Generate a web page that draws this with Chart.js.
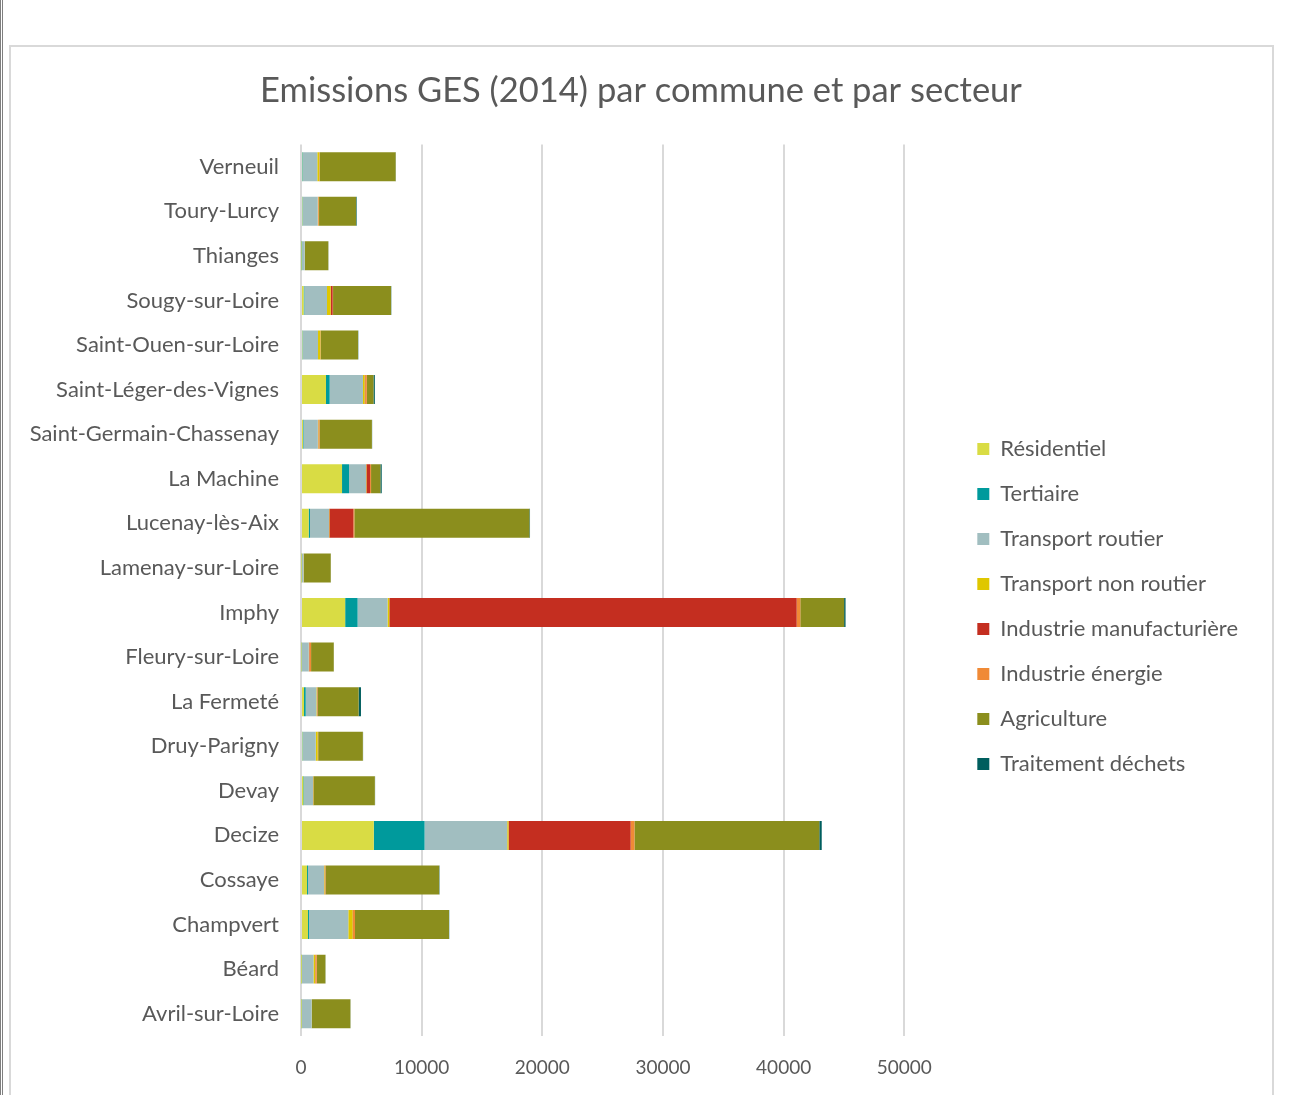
<!DOCTYPE html>
<html lang="fr">
<head>
<meta charset="utf-8">
<title>Emissions GES (2014)</title>
<script src="https://cdn.jsdelivr.net/npm/chart.js@4.4.1/dist/chart.umd.min.js"></script>
<style>
  html, body { margin: 0; padding: 0; background: #fff; }
  .page { position: relative; width: 1302px; height: 1095px; overflow: hidden; }
  .rule { position: absolute; top: 0; width: 1px; height: 1095px; background: #7f7f7f; }
  .frame { position: absolute; left: 9px; top: 45px; width: 1265px; height: 1100px;
           border: 2px solid #d9d9d9; box-sizing: border-box; }
  .box { position: absolute; left: 0; top: 0; width: 1302px; height: 1095px; }
</style>
</head>
<body>
<div class="page">
  <div class="rule" style="left:0"></div>
  <div class="rule" style="left:2px"></div>
  <div class="frame"></div>
  <div class="box"><canvas id="gesChart"></canvas></div>
</div>
<script>
// communes, from bottom of the chart to top
const communes = [
  "Avril-sur-Loire", "Béard", "Champvert", "Cossaye", "Decize", "Devay",
  "Druy-Parigny", "La Fermeté", "Fleury-sur-Loire", "Imphy", "Lamenay-sur-Loire",
  "Lucenay-lès-Aix", "La Machine", "Saint-Germain-Chassenay", "Saint-Léger-des-Vignes",
  "Saint-Ouen-sur-Loire", "Sougy-sur-Loire", "Thianges", "Toury-Lurcy", "Verneuil"
];

// émissions par secteur (teqCO2)
const residentiel   = [30, 20, 580, 500, 6030, 195, 110, 250, 40, 3660, 30, 635, 3400, 165, 2070, 110, 220, 40, 110, 100];
const tertiaire     = [20, 20, 80, 80, 4210, 55, 30, 140, 20, 1030, 10, 110, 580, 40, 305, 30, 55, 50, 30, 40];
const transportRout = [830, 995, 3260, 1330, 6850, 745, 1080, 885, 580, 2480, 165, 1575, 1410, 1190, 2760, 1270, 1880, 220, 1245, 1210];
const transportNon  = [10, 140, 360, 40, 110, 20, 165, 60, 30, 150, 10, 30, 30, 40, 140, 195, 305, 10, 40, 165];
const industrieManu = [0, 20, 30, 20, 10120, 10, 10, 20, 30, 33760, 0, 1990, 305, 20, 40, 10, 165, 0, 10, 10];
const industrieEner = [0, 110, 165, 55, 315, 10, 30, 20, 135, 300, 10, 80, 80, 80, 140, 20, 30, 10, 60, 20];
const agriculture   = [3205, 720, 7790, 9425, 15320, 5085, 3700, 3400, 1880, 3630, 2240, 14510, 775, 4340, 555, 3095, 4810, 1935, 3070, 6300];
const dechets       = [10, 10, 20, 30, 200, 20, 20, 195, 10, 120, 10, 50, 110, 20, 110, 20, 20, 10, 50, 20];

const xTicks = [0, 10000, 20000, 30000, 40000, 50000];

const FONT = "Lato, 'Open Sans', sans-serif";
const GREY = "#595959";

const series = [
  ["Résidentiel", residentiel, "#d9dc44"],
  ["Tertiaire", tertiaire, "#009a9c"],
  ["Transport routier", transportRout, "#a1bec0"],
  ["Transport non routier", transportNon, "#dfc700"],
  ["Industrie manufacturière", industrieManu, "#c42e20"],
  ["Industrie énergie", industrieEner, "#f08a36"],
  ["Agriculture", agriculture, "#8b8e1d"],
  ["Traitement déchets", dechets, "#005e5e"]
];

// push the legend away from the plot and down towards the middle,
// and center the title on the whole frame
const boxOffsets = {
  id: "boxOffsets",
  afterLayout(chart) {
    const lg = chart.legend;
    if (lg) {
      lg.left += 50; lg.right += 50;
      lg.top += 59; lg.bottom += 59;
    }
    const tt = chart.titleBlock;
    if (tt) {
      tt.left += 42; tt.right += 42;
    }
  },
};

document.addEventListener("DOMContentLoaded", function () {
  const ctx = document.getElementById("gesChart").getContext("2d");
  new Chart(ctx, {
    type: "bar",
    data: {
      labels: communes,
      datasets: series.map(([label, data, color]) => ({
        label: label,
        data: data,
        backgroundColor: color,
        borderWidth: 0,
        barPercentage: 0.65,
        categoryPercentage: 1,
      })),
    },
    plugins: [boxOffsets],
    options: {
      indexAxis: "y",
      responsive: true,
      maintainAspectRatio: false,
      animation: false,
      layout: { padding: { left: 0, right: 104, top: 0, bottom: 0 } },
      plugins: {
        title: {
          display: true,
          text: "Emissions GES (2014) par commune et par secteur",
          color: GREY,
          font: { family: FONT, size: 34.5, weight: "normal" },
          padding: { top: 70, bottom: 33 },
        },
        legend: {
          position: "right",
          maxWidth: 400,
          labels: {
            color: GREY,
            font: { family: FONT, size: 22 },
            boxWidth: 12,
            boxHeight: 12,
            padding: 23,
          },
        },
        tooltip: { enabled: false },
      },
      scales: {
        x: {
          stacked: true,
          min: 0,
          max: 50000,
          afterBuildTicks: (s) => { s.ticks = xTicks.map((v) => ({ value: v })); },
          afterFit: (s) => { s.height = 59; },
          ticks: {
            color: GREY,
            font: { family: FONT, size: 19 },
            padding: 20,
            callback: (v) => String(v),
          },
          grid: { color: "#d9d9d9", lineWidth: 2, drawTicks: false },
          border: { display: false },
        },
        y: {
          stacked: true,
          reverse: true,
          afterFit: (s) => { s.width = 301; },
          ticks: {
            color: GREY,
            font: { family: FONT, size: 22 },
            padding: 22,
          },
          grid: { display: false, drawTicks: false },
          border: { display: false },
        },
      },
    },
  });
});
</script>
</body>
</html>
